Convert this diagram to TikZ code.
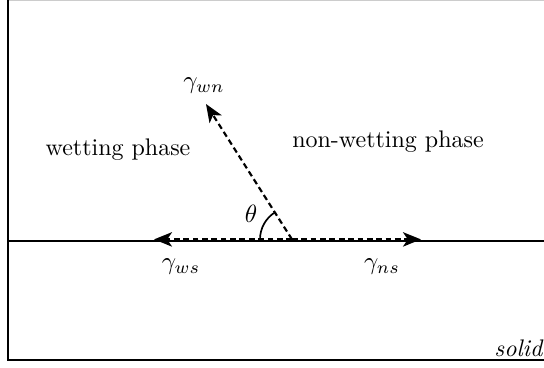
\documentclass[tikz,border=0pt]{standalone}
\usetikzlibrary{arrows.meta}
\begin{document}
\begin{tikzpicture}[x=0.4167pt,y=-0.4167pt,
  frame/.style={line width=0.8pt},
  force/.style={line width=0.9pt,dash pattern=on 2.4pt off 1.5pt,-{Stealth[length=7.5pt,width=6pt,inset=2pt]}},
  lbl/.style={inner sep=0pt},
  mlbl/.style={inner sep=0pt,scale=1.04}]
\useasboundingbox (0,0) rectangle (544,367);
\begin{scope}
\clip (0,0) rectangle (544,367);
\draw[frame,gray!40] (8,0) -- (550,0);
\draw[frame] (8,0) -- (8,360) -- (550,360);
\end{scope}
\coordinate (L) at (8,240.6);
\coordinate (R) at (544,240.6);
\draw[frame] (L) -- (R);
\coordinate (O) at (292,239.4);
\coordinate (ews) at (154,239.4);
\coordinate (ens) at (421,239.4);
\coordinate (ewn) at (206,104);
\draw[force] (O) -- (ews);
\draw[force] (O) -- (ens);
\draw[force] (O) -- (ewn);
\draw[line width=0.7pt] ([shift={(180:32)}]O) arc[start angle=180,end angle=238,radius=32];
\node[mlbl] (twn) at (204,86) {$\gamma_{wn}$};
\node[mlbl] (tws) at (181,267) {$\gamma_{ws}$};
\node[mlbl] (tns) at (382,267) {$\gamma_{ns}$};
\node[mlbl] (th) at (251,214) {$\theta$};
\node[lbl] (wp) at (118,150) {wetting phase};
\node[lbl] (nwp) at (388,142) {non-wetting phase};
\node[lbl] (sol) at (519,348) {\textit{solid}};
\end{tikzpicture}
\end{document}
